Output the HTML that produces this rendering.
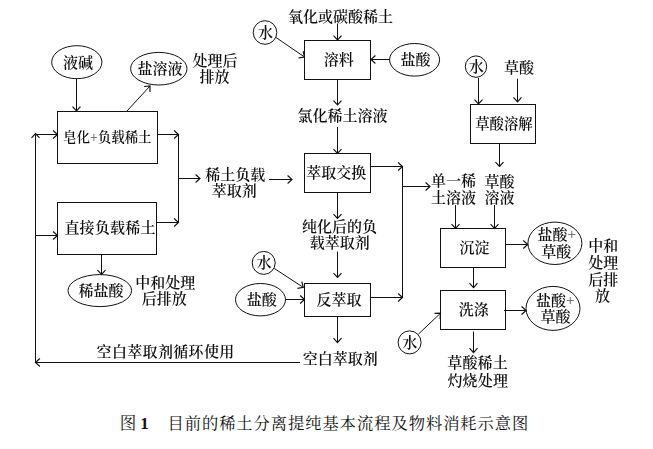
<!DOCTYPE html>
<html lang="zh-CN">
<head>
<meta charset="utf-8">
<title>图1 目前的稀土分离提纯基本流程及物料消耗示意图</title>
<style>
html,body{margin:0;padding:0;background:#fff;}
body{width:653px;height:449px;overflow:hidden;}
svg{display:block;}
.g{fill:none;stroke:#111;stroke-width:1;}
.h{fill:none;stroke:#111;stroke-width:1.15;}
.d{filter:blur(0.3px);}
.t{font-family:"Liberation Serif", "Noto Serif CJK SC", serif;fill:#111;text-anchor:middle;font-weight:600;}
.p{fill:#777;}
</style>
</head>
<body>
<svg width="653" height="449" viewBox="0 0 653 449">
<rect width="653" height="449" fill="#ffffff"/>
<g class="g">
<ellipse cx="76.8" cy="62.2" rx="25.1" ry="16.5"/>
<ellipse cx="158.8" cy="68.7" rx="28.2" ry="16.3"/>
<ellipse cx="265" cy="32.5" rx="11.8" ry="11.8"/>
<ellipse cx="414.6" cy="59.8" rx="25" ry="16.3"/>
<ellipse cx="476" cy="66.6" rx="10.7" ry="10.7"/>
<ellipse cx="99.8" cy="290.6" rx="31.8" ry="16"/>
<ellipse cx="263.7" cy="262.9" rx="11.5" ry="11.5"/>
<ellipse cx="260.5" cy="299.7" rx="25" ry="16.2"/>
<ellipse cx="554.9" cy="243.3" rx="27" ry="21.2"/>
<ellipse cx="553" cy="308.4" rx="27" ry="22"/>
<ellipse cx="409.6" cy="342.4" rx="11.5" ry="11.5"/>
<rect x="57.5" y="111.5" width="100.0" height="52.0"/>
<rect x="57.5" y="202.5" width="99.0" height="52.0"/>
<rect x="304.5" y="40.5" width="66.0" height="39.0"/>
<rect x="304.5" y="153.5" width="66.0" height="39.0"/>
<rect x="304.5" y="283.5" width="66.0" height="33.0"/>
<rect x="470.5" y="104.5" width="65.0" height="39.0"/>
<rect x="440.5" y="228.5" width="65.0" height="39.0"/>
<rect x="440.5" y="290.5" width="65.0" height="39.0"/>
<path d="M76.5 78.7L76.5 111"/>
<path d="M127 111L150 86"/>
<path d="M276 37.5L304.5 57"/>
<path d="M337.5 23.5L337.5 40"/>
<path d="M389.7 59.5L371 59.5"/>
<path d="M337.5 79.5L337.5 105"/>
<path d="M478.5 78L478.5 104"/>
<path d="M517.5 78.7L517.5 101.8"/>
<path d="M35.5 362.5L35.5 133.5"/>
<path d="M35.5 134.5L57.5 134.5"/>
<path d="M35.5 235.5L57.5 235.5"/>
<path d="M157.5 134.5L178.5 134.5"/>
<path d="M156.5 222.5L178.5 222.5"/>
<path d="M178.5 134.5L178.5 222.5"/>
<path d="M178.5 178.5L200 178.5"/>
<path d="M269 179.5L292 179.5"/>
<path d="M337.5 127L337.5 153.5"/>
<path d="M337.5 192.5L337.5 218.5"/>
<path d="M337.5 251.5L337.5 277.5"/>
<path d="M337.5 316.5L337.5 342.6"/>
<path d="M370.5 166.5L402.5 166.5"/>
<path d="M370.5 297.5L402.5 297.5"/>
<path d="M402.5 166.5L402.5 297.5"/>
<path d="M402.5 186.5L430 186.5"/>
<path d="M274.2 268.4L303.3 287.4"/>
<path d="M285.5 299.5L304.5 299.5"/>
<path d="M499.5 143.5L499.5 166.5"/>
<path d="M455.5 205L455.5 228.5"/>
<path d="M494.5 205L494.5 228.5"/>
<path d="M473.5 267.5L473.5 287.6"/>
<path d="M505.5 244.5L527.7 244.5"/>
<path d="M504 310.5L526 310.5"/>
<path d="M418.5 334L440.5 313.2"/>
<path d="M473.5 331.5L473.5 352.6"/>
<path d="M300 362.5L35.5 362.5"/>
<path d="M101.5 254.5L101.5 274.5"/>
</g>
<g class="h">
<path d="M72.50 106.60L76.5 111L80.50 106.60"/>
<path d="M149.96 91.95L150 86L144.08 86.53"/>
<path d="M298.61 57.82L304.5 57L303.13 51.21"/>
<path d="M333.50 35.60L337.5 40L341.50 35.60"/>
<path d="M375.40 55.50L371 59.5L375.40 63.50"/>
<path d="M333.50 100.60L337.5 105L341.50 100.60"/>
<path d="M474.50 99.60L478.5 104L482.50 99.60"/>
<path d="M513.50 97.40L517.5 101.8L521.50 97.40"/>
<path d="M39.50 137.90L35.5 133.5L31.50 137.90"/>
<path d="M53.10 138.50L57.5 134.5L53.10 130.50"/>
<path d="M53.10 239.50L57.5 235.5L53.10 231.50"/>
<path d="M174.10 138.50L178.5 134.5L174.10 130.50"/>
<path d="M174.10 226.50L178.5 222.5L174.10 218.50"/>
<path d="M195.60 182.50L200 178.5L195.60 174.50"/>
<path d="M287.60 183.50L292 179.5L287.60 175.50"/>
<path d="M333.50 149.10L337.5 153.5L341.50 149.10"/>
<path d="M333.50 214.10L337.5 218.5L341.50 214.10"/>
<path d="M333.50 273.10L337.5 277.5L341.50 273.10"/>
<path d="M333.50 338.20L337.5 342.6L341.50 338.20"/>
<path d="M398.10 170.50L402.5 166.5L398.10 162.50"/>
<path d="M398.10 301.50L402.5 297.5L398.10 293.50"/>
<path d="M425.60 190.50L430 186.5L425.60 182.50"/>
<path d="M297.43 288.34L303.3 287.4L301.80 281.65"/>
<path d="M300.10 303.50L304.5 299.5L300.10 295.50"/>
<path d="M495.50 162.10L499.5 166.5L503.50 162.10"/>
<path d="M451.50 224.10L455.5 228.5L459.50 224.10"/>
<path d="M490.50 224.10L494.5 228.5L498.50 224.10"/>
<path d="M469.50 283.20L473.5 287.6L477.50 283.20"/>
<path d="M523.30 248.50L527.7 244.5L523.30 240.50"/>
<path d="M521.60 314.50L526 310.5L521.60 306.50"/>
<path d="M440.05 319.13L440.5 313.2L434.55 313.32"/>
<path d="M469.50 348.20L473.5 352.6L477.50 348.20"/>
<path d="M39.90 358.50L35.5 362.5L39.90 366.50"/>
<path d="M97.50 270.10L101.5 274.5L105.50 270.10"/>
</g>
<g class="t">
<g class="d">
<text x="78" y="68.10" font-size="15">液碱</text>
<text x="159.9" y="74.10" font-size="15">盐溶液</text>
<text x="215" y="65.90" font-size="15">处理后</text>
<text x="214.6" y="82.40" font-size="15">排放</text>
<text x="265.5" y="37.90" font-size="15">水</text>
<text x="340.5" y="22.40" font-size="15">氧化或碳酸稀土</text>
<text x="338.7" y="65.10" font-size="15">溶料</text>
<text x="415.6" y="65.20" font-size="15">盐酸</text>
<text x="476.2" y="72.10" font-size="15">水</text>
<text x="519" y="73.40" font-size="15">草酸</text>
<text x="342.4" y="120.90" font-size="15">氯化稀土溶液</text>
<text x="503.9" y="129.26" font-size="14.6" textLength="57.4" lengthAdjust="spacingAndGlyphs">草酸溶解</text>
<text x="107.3" y="142.34" font-size="14" textLength="88.6" lengthAdjust="spacingAndGlyphs">皂化<tspan class="p">+</tspan>负载稀土</text>
<text x="235.2" y="180.10" font-size="15">稀土负载</text>
<text x="234.2" y="196.40" font-size="15">萃取剂</text>
<text x="336.3" y="178.40" font-size="15">萃取交换</text>
<text x="453.4" y="186.40" font-size="15">单一稀</text>
<text x="453.4" y="203.00" font-size="15">土溶液</text>
<text x="499.5" y="186.60" font-size="15">草酸</text>
<text x="499.5" y="203.40" font-size="15">溶液</text>
<text x="110" y="233.10" font-size="15" letter-spacing="0.2">直接负载稀土</text>
<text x="101" y="296.00" font-size="15">稀盐酸</text>
<text x="165.3" y="288.40" font-size="15">中和处理</text>
<text x="164.3" y="303.90" font-size="15">后排放</text>
<text x="339.5" y="232.10" font-size="15">纯化后的负</text>
<text x="339.7" y="248.40" font-size="15">载萃取剂</text>
<text x="263.9" y="268.40" font-size="15">水</text>
<text x="261.7" y="305.10" font-size="15">盐酸</text>
<text x="339" y="305.40" font-size="15">反萃取</text>
<text x="474.5" y="253.10" font-size="15">沉淀</text>
<text x="473.8" y="315.20" font-size="15">洗涤</text>
<text x="556.8" y="240.10" font-size="15">盐酸<tspan class="p" dy="-1.3">+</tspan></text>
<text x="556.2" y="257.20" font-size="15">草酸</text>
<text x="555.2" y="306.20" font-size="15">盐酸<tspan class="p" dy="-1.3">+</tspan></text>
<text x="555.5" y="321.70" font-size="15">草酸</text>
<text x="603.3" y="251.10" font-size="15">中和</text>
<text x="603.3" y="267.90" font-size="15">处理</text>
<text x="603.3" y="284.70" font-size="15">后排</text>
<text x="602.5" y="300.90" font-size="15">放</text>
<text x="409.8" y="348.00" font-size="15">水</text>
<text x="165.6" y="357.20" font-size="15" letter-spacing="0.33">空白萃取剂循环使用</text>
<text x="340.2" y="364.30" font-size="15">空白萃取剂</text>
<text x="477.6" y="368.40" font-size="15" letter-spacing="0.2">草酸稀土</text>
<text x="477.8" y="385.60" font-size="15" letter-spacing="0.2">灼烧处理</text>
</g>
<text x="119.7" y="429" font-size="16.5" font-weight="400" text-anchor="start">图 <tspan font-weight="bold" font-size="17">1</tspan></text><text x="167.45" y="429" font-size="16.3" font-weight="400" letter-spacing="0.95" text-anchor="start">目前的稀土分离提纯基本流程及物料消耗示意图</text>
</g>
</svg>
</body>
</html>
